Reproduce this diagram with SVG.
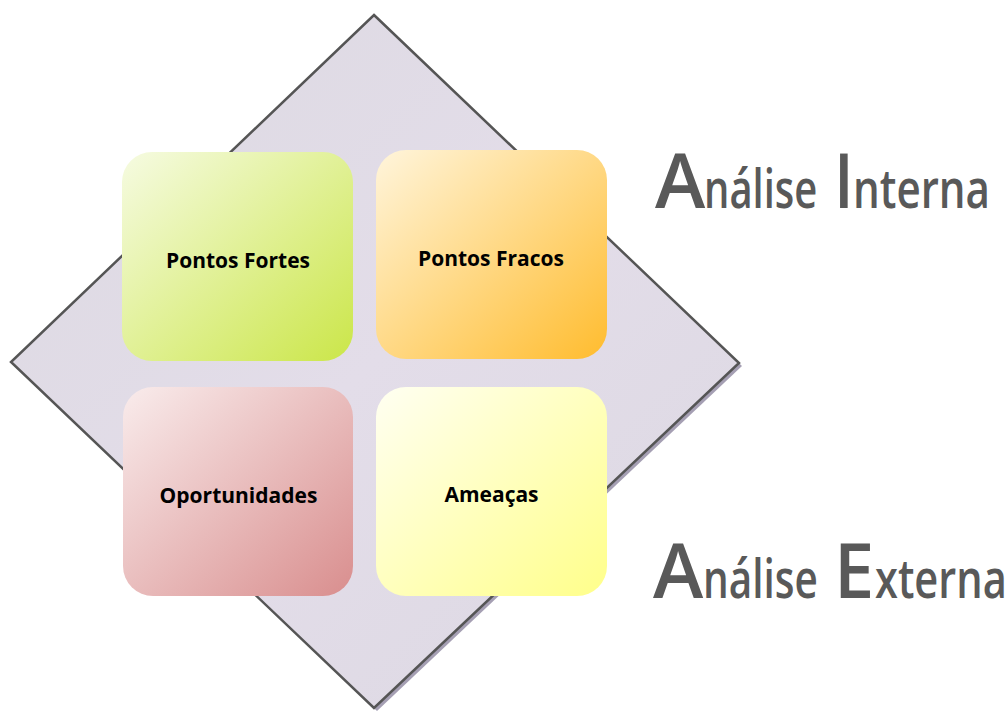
<svg xmlns="http://www.w3.org/2000/svg" width="1006" height="711" viewBox="0 0 1006 711">
<defs>
<linearGradient id="gd" x1="0" y1="0" x2="1" y2="1">
<stop offset="0" stop-color="#dcd9e1"/>
<stop offset="0.5" stop-color="#e3dde9"/>
<stop offset="1" stop-color="#dcd8e2"/>
</linearGradient>
<linearGradient id="g1" x1="0" y1="0" x2="1" y2="1">
<stop offset="0" stop-color="#f6fbe2"/>
<stop offset="1" stop-color="#cbe649"/>
</linearGradient>
<linearGradient id="g2" x1="0" y1="0" x2="1" y2="1">
<stop offset="0" stop-color="#fff5dc"/>
<stop offset="1" stop-color="#ffbc2e"/>
</linearGradient>
<linearGradient id="g3" x1="0" y1="0" x2="1" y2="1">
<stop offset="0" stop-color="#f9ecec"/>
<stop offset="1" stop-color="#d98e8e"/>
</linearGradient>
<linearGradient id="g4" x1="0" y1="0" x2="1" y2="1">
<stop offset="0" stop-color="#fffff2"/>
<stop offset="1" stop-color="#ffff8a"/>
</linearGradient>
</defs>
<style>
.box{stroke:none}
.lbl{font-family:"Open Sans","Liberation Sans",sans-serif;font-weight:bold;font-size:21px;fill:#000;text-anchor:middle}
.big{font-family:"Open Sans","Liberation Sans",sans-serif;font-weight:600;fill:#595959;font-size:76px}
.sm{font-family:"Open Sans","Liberation Sans",sans-serif;font-weight:600;fill:#595959;font-size:54px}
</style>
<g id="diamond">
<polygon points="377,18 742,366 377,711 14,365" fill="#a59fb3"/>
<polygon points="374,15 739,363 374,708 11,362" fill="url(#gd)" stroke="#555555" stroke-width="2.5" stroke-linejoin="miter"/>
</g>
<g id="pontos-fortes">
<rect class="box" x="122" y="152" width="231" height="209" rx="30" fill="url(#g1)"/>
<text class="lbl" x="238" y="268">Pontos Fortes</text>
</g>
<g id="pontos-fracos">
<rect class="box" x="376" y="150" width="231" height="209" rx="30" fill="url(#g2)"/>
<text class="lbl" x="491" y="266">Pontos Fracos</text>
</g>
<g id="oportunidades">
<rect class="box" x="123" y="387" width="230" height="209" rx="30" fill="url(#g3)"/>
<text class="lbl" x="238.5" y="503">Oportunidades</text>
</g>
<g id="ameacas">
<rect class="box" x="376" y="387" width="231" height="209" rx="30" fill="url(#g4)"/>
<text class="lbl" x="491.5" y="502">Ameaças</text>
</g>
<g id="analise-interna">
<text class="big" transform="translate(655,208)">A</text>
<text class="sm" transform="translate(704,208) scale(0.74,1)">nálise</text>
<text class="big" transform="translate(834,208) scale(0.85,1)">I</text>
<text class="sm" transform="translate(853,208) scale(0.78,1)">nterna</text>
</g>
<g id="analise-externa">
<text class="big" transform="translate(653,598)">A</text>
<text class="sm" transform="translate(703,598) scale(0.75,1)">nálise</text>
<text class="big" transform="translate(834,598) scale(0.95,1)">E</text>
<text class="sm" transform="translate(875,598) scale(0.77,1)">xterna</text>
</g>
<g id="connectors"></g>
</svg>
